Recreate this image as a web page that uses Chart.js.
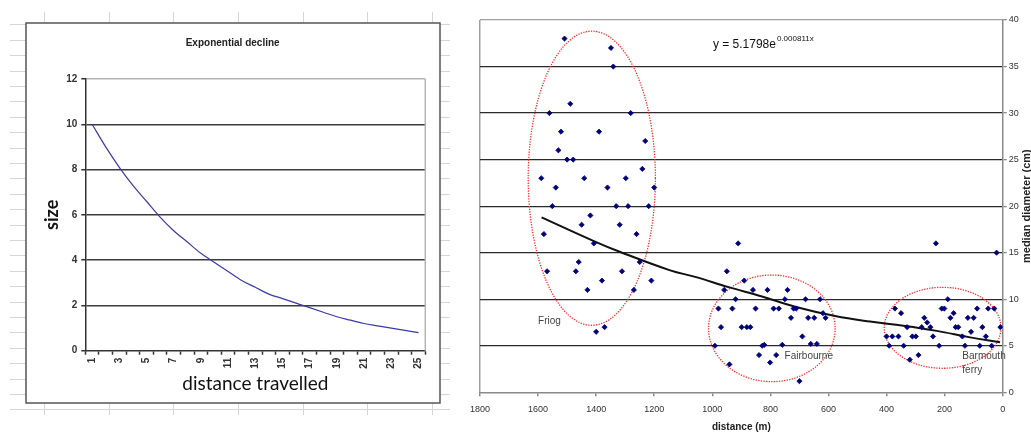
<!DOCTYPE html>
<html>
<head>
<meta charset="utf-8">
<script src="https://cdn.jsdelivr.net/npm/chart.js@4.4.1/dist/chart.umd.min.js"></script>
<style>
  html, body { margin: 0; padding: 0; background: #fff; }
  #leftChart { position: absolute; left: 0; top: 0; }
  #rightChart { position: absolute; left: 460px; top: 0; }
</style>
</head>
<body>
<canvas id="leftChart" width="460" height="432"></canvas>
<canvas id="rightChart" width="571" height="432"></canvas>
<script>
// left chart: exponential decline
const steps = ['1','2','3','4','5','6','7','8','9','10','11','12','13','14','15','16','17','18','19','20','21','22','23','24','25'];
const sizes = [10, 9.0, 8.1, 7.3, 6.6, 5.9, 5.3, 4.8, 4.3, 3.9, 3.5, 3.1, 2.8, 2.5, 2.3, 2.1, 1.9, 1.7, 1.5, 1.35, 1.2, 1.1, 1.0, 0.9, 0.8];

// right chart: beach samples (distance m, median diameter cm)
const friogDist = [1509, 1349, 1341, 1489, 1561, 1281, 1521, 1390, 1231, 1530, 1500, 1479, 1241, 1589, 1441, 1298, 1539, 1361, 1200, 1551, 1331, 1290, 1219, 1420, 1450, 1319, 1580, 1261, 1408, 1460, 1250, 1569, 1470, 1311, 1380, 1210, 1430, 1270, 1371, 1400];
const friogDiam = [38, 37, 35, 31, 30, 30, 28, 28, 27, 26, 25, 25, 24, 23, 23, 23, 22, 22, 22, 20, 20, 20, 20, 19, 18, 18, 17, 17, 16, 14, 14, 13, 13, 13, 12, 12, 11, 11, 7, 6.5];
const fairDist = [911, 950, 890, 959, 860, 810, 741, 920, 750, 679, 629, 979, 931, 851, 789, 771, 720, 711, 619, 729, 670, 649, 610, 970, 899, 881, 869, 690, 991, 828, 821, 759, 661, 640, 839, 780, 801, 941, 700];
const fairDiam = [16, 13, 12, 11, 11, 11, 11, 10, 10, 10, 10, 9, 9, 9, 9, 9, 9, 9, 8.5, 8, 8, 8, 8, 7, 7, 7, 7, 6, 5, 5, 5.1, 5.1, 5.2, 5.2, 4, 4, 3.2, 3, 1.2];
const barmDist = [230, 21, 189, 371, 210, 201, 88, 50, 29, 350, 169, 180, 120, 100, 270, 260, 249, 279, 329, 162, 153, 70, 8, 109, 58, 400, 380, 359, 311, 299, 240, 139, 391, 341, 219, 130, 79, 38, 290, 320];
const barmDiam = [16, 15, 10, 9, 9, 9, 9, 9, 9, 8.5, 8.5, 8, 8, 8, 8, 7.5, 7, 7, 7, 7, 7, 7, 7, 6.5, 6, 6, 6, 6, 6, 6, 6, 6, 5, 5, 5, 5, 5, 5, 4, 3.5];

// trend line
const trendDist = [1588, 1408, 1319, 1145, 1059, 944, 829, 715, 577, 457, 342, 227, 112, 9];
const trendDiam = [18.8, 16.25, 15.1, 13.1, 12.4, 11.3, 10.3, 9.2, 8.2, 7.6, 7.15, 6.6, 5.9, 5.37];

// groups circled on the chart: centre (m, cm) and half sizes
const groupNames = ['Friog', 'Fairbourne', 'Barmouth'];
const groupCentre = [[1415, 23.0], [795, 6.87], [207, 6.93]];
const groupHalf = [[219, 15.8], [218, 5.73], [201, 4.35]];

const toPoints = (xs, ys) => xs.map((x, i) => ({ x: x, y: ys[i] }));

const narrow = "'Liberation Sans Narrow', 'Arial Narrow', 'Liberation Sans', sans-serif";

// ---------- left chart ----------
const sheetBackground = {
    id: 'sheetBackground',
    beforeDraw(chart) {
        const c = chart.ctx;
        c.save();
        c.fillStyle = '#fff';
        c.fillRect(0, 0, chart.width, chart.height);
        c.strokeStyle = '#d6d6d6';
        c.lineWidth = 1;
        for (let k = 0; k < 26; k++) {
            const y = Math.round(24.3 + 15.4 * k) + 0.5;
            c.beginPath(); c.moveTo(10, y); c.lineTo(450, y); c.stroke();
        }
        for (let k = 0; k < 7; k++) {
            const x = Math.round(44.3 + 64.55 * k) + 0.5;
            c.beginPath(); c.moveTo(x, 12); c.lineTo(x, 415); c.stroke();
        }
        c.fillStyle = '#fff';
        c.fillRect(26, 23, 414, 380);
        c.strokeStyle = '#555';
        c.lineWidth = 1.5;
        c.strokeRect(26, 23, 414, 380);
        c.restore();
    },
    beforeDatasetsDraw(chart) {
        const a = chart.chartArea;
        const c = chart.ctx;
        c.save();
        c.strokeStyle = '#b4b4b4';
        c.lineWidth = 1.5;
        c.beginPath(); c.moveTo(a.right, a.top); c.lineTo(a.right, a.bottom); c.stroke();
        c.restore();
    }
};

new Chart(document.getElementById('leftChart').getContext('2d'), {
    type: 'line',
    data: {
        labels: steps,
        datasets: [{
            data: sizes,
            borderColor: '#3b3ba6',
            borderWidth: 1.2,
            pointRadius: 0,
            cubicInterpolationMode: 'monotone',
            fill: false
        }]
    },
    options: {
        responsive: false,
        animation: false,
        layout: { padding: { left: 40, right: 34.7, top: 0, bottom: 30 } },
        plugins: {
            legend: { display: false },
            tooltip: { enabled: false },
            title: {
                display: true,
                text: 'Exponential decline',
                color: '#222',
                font: { family: 'Liberation Sans, Arial, sans-serif', size: 10, weight: 'bold' },
                padding: { top: 37, bottom: 30 }
            }
        },
        scales: {
            x: {
                offset: true,
                afterFit(scale) { scale.height = 51.3; },
                grid: { offset: true, drawOnChartArea: false, tickLength: 4, tickColor: '#333', tickWidth: 1.5 },
                border: { color: '#333', width: 1.5 },
                ticks: {
                    autoSkip: false,
                    minRotation: 90,
                    maxRotation: 90,
                    padding: 3,
                    color: '#333',
                    font: { family: 'Liberation Sans, Arial, sans-serif', size: 10, weight: 'bold' },
                    callback: (v, i) => i % 2 === 0 ? steps[i] : ''
                },
                title: {
                    display: true,
                    text: 'distance travelled',
                    color: '#111',
                    font: { family: 'Lato, sans-serif', size: 19 },
                    padding: { top: 0, bottom: 6.6 }
                }
            },
            y: {
                min: 0,
                max: 12,
                afterFit(scale) { scale.width = 45.3; },
                ticks: {
                    stepSize: 2,
                    padding: 4,
                    color: '#333',
                    font: { family: 'Liberation Sans, Arial, sans-serif', size: 10, weight: 'bold' }
                },
                grid: {
                    tickLength: 4,
                    tickColor: '#333',
                    lineWidth: 1.5,
                    color: (c) => {
                        if (!c.tick || c.tick.value === 0) return 'rgba(0,0,0,0)';
                        return c.tick.value === 12 ? '#b4b4b4' : '#3c3c3c';
                    }
                },
                border: { color: '#333', width: 1.5 },
                title: {
                    display: true,
                    text: 'size',
                    color: '#111',
                    font: { family: 'Lato, sans-serif', size: 18, weight: 'bold' },
                    padding: { top: 1, bottom: 0 }
                }
            }
        }
    },
    plugins: [sheetBackground]
});

// ---------- right chart ----------
const beachNotes = {
    id: 'beachNotes',
    beforeDatasetsDraw(chart) {
        const c = chart.ctx;
        const xs = chart.scales.x, ys = chart.scales.y;
        c.save();
        c.strokeStyle = '#ff2a2a';
        c.lineWidth = 1.3;
        c.setLineDash([1.3, 1.3]);
        groupCentre.forEach((g, i) => {
            const cx = xs.getPixelForValue(g[0]);
            const cy = ys.getPixelForValue(g[1]);
            const rx = Math.abs(xs.getPixelForValue(g[0] + groupHalf[i][0]) - cx);
            const ry = Math.abs(ys.getPixelForValue(g[1] + groupHalf[i][1]) - cy);
            c.beginPath();
            c.ellipse(cx, cy, rx, ry, 0, 0, Math.PI * 2);
            c.stroke();
        });
        c.restore();
    },
    afterDraw(chart) {
        const c = chart.ctx;
        const xs = chart.scales.x, ys = chart.scales.y;
        c.save();
        c.textBaseline = 'middle';
        c.textAlign = 'left';
        c.fillStyle = '#444';
        c.font = '10px ' + narrow;
        c.fillText(groupNames[0], xs.getPixelForValue(1600), ys.getPixelForValue(7.66));
        c.fillText(groupNames[1], xs.getPixelForValue(751), ys.getPixelForValue(3.83));
        c.fillText(groupNames[2], xs.getPixelForValue(139), ys.getPixelForValue(3.83));
        c.fillText('ferry', xs.getPixelForValue(139), ys.getPixelForValue(2.4));

        // fitted equation
        c.fillStyle = '#111';
        c.font = '12px Liberation Sans, Arial, sans-serif';
        const ex = xs.getPixelForValue(998), ey = ys.getPixelForValue(37.4);
        c.fillText('y = 5.1798e', ex, ey);
        const w = c.measureText('y = 5.1798e').width;
        c.font = '8px Liberation Sans, Arial, sans-serif';
        c.fillText('0.000811x', ex + w + 1, ey - 5);

        // y axis title, reading upward
        c.font = 'bold 11px Liberation Sans, Arial, sans-serif';
        c.fillStyle = '#222';
        c.textAlign = 'center';
        c.translate(567, (chart.chartArea.top + chart.chartArea.bottom) / 2);
        c.rotate(-Math.PI / 2);
        c.fillText('median diameter (cm)', 0, 0);
        c.restore();
    }
};

new Chart(document.getElementById('rightChart').getContext('2d'), {
    type: 'scatter',
    data: {
        datasets: [
            {
                data: toPoints(friogDist, friogDiam)
                    .concat(toPoints(fairDist, fairDiam))
                    .concat(toPoints(barmDist, barmDiam)),
                pointStyle: 'rectRot',
                pointRadius: 2.6,
                pointBorderWidth: 0.8,
                backgroundColor: '#00007a',
                borderColor: '#00007a',
                order: 1
            },
            {
                type: 'line',
                data: toPoints(trendDist, trendDiam),
                borderColor: '#111',
                borderWidth: 2,
                pointRadius: 0,
                tension: 0.4,
                fill: false,
                order: 2
            }
        ]
    },
    options: {
        responsive: false,
        animation: false,
        layout: { padding: { left: 20, right: 0, top: 20, bottom: 0 } },
        plugins: {
            legend: { display: false },
            tooltip: { enabled: false }
        },
        scales: {
            x: {
                type: 'linear',
                reverse: true,
                min: 0,
                max: 1800,
                afterFit(scale) { scale.height = 39.7; },
                ticks: {
                    stepSize: 200,
                    padding: 8,
                    color: '#333',
                    font: { family: narrow, size: 9 },
                    callback: (v) => String(v)
                },
                grid: {
                    tickLength: 4,
                    tickColor: '#888',
                    color: (c) => c.tick && c.tick.value === 1800 ? '#a0a0a0' : 'rgba(0,0,0,0)',
                    lineWidth: 1.5
                },
                border: { color: '#8a8a8a', width: 1.5 },
                title: {
                    display: true,
                    text: 'distance (m)',
                    color: '#222',
                    font: { family: narrow, size: 10, weight: 'bold', lineHeight: 1 },
                    padding: { top: 0, bottom: 0 }
                }
            },
            y: {
                position: 'right',
                min: 0,
                max: 40,
                afterFit(scale) { scale.width = 28.3; },
                ticks: {
                    stepSize: 5,
                    padding: 2,
                    color: '#333',
                    font: { family: narrow, size: 9 }
                },
                grid: {
                    tickLength: 4,
                    tickColor: '#888',
                    lineWidth: 1.3,
                    color: (c) => {
                        if (!c.tick || c.tick.value === 0) return 'rgba(0,0,0,0)';
                        return c.tick.value === 40 ? '#a0a0a0' : '#2a2a2a';
                    }
                },
                border: { color: '#8a8a8a', width: 1.5 }
            }
        }
    },
    plugins: [beachNotes]
});
</script>
</body>
</html>
